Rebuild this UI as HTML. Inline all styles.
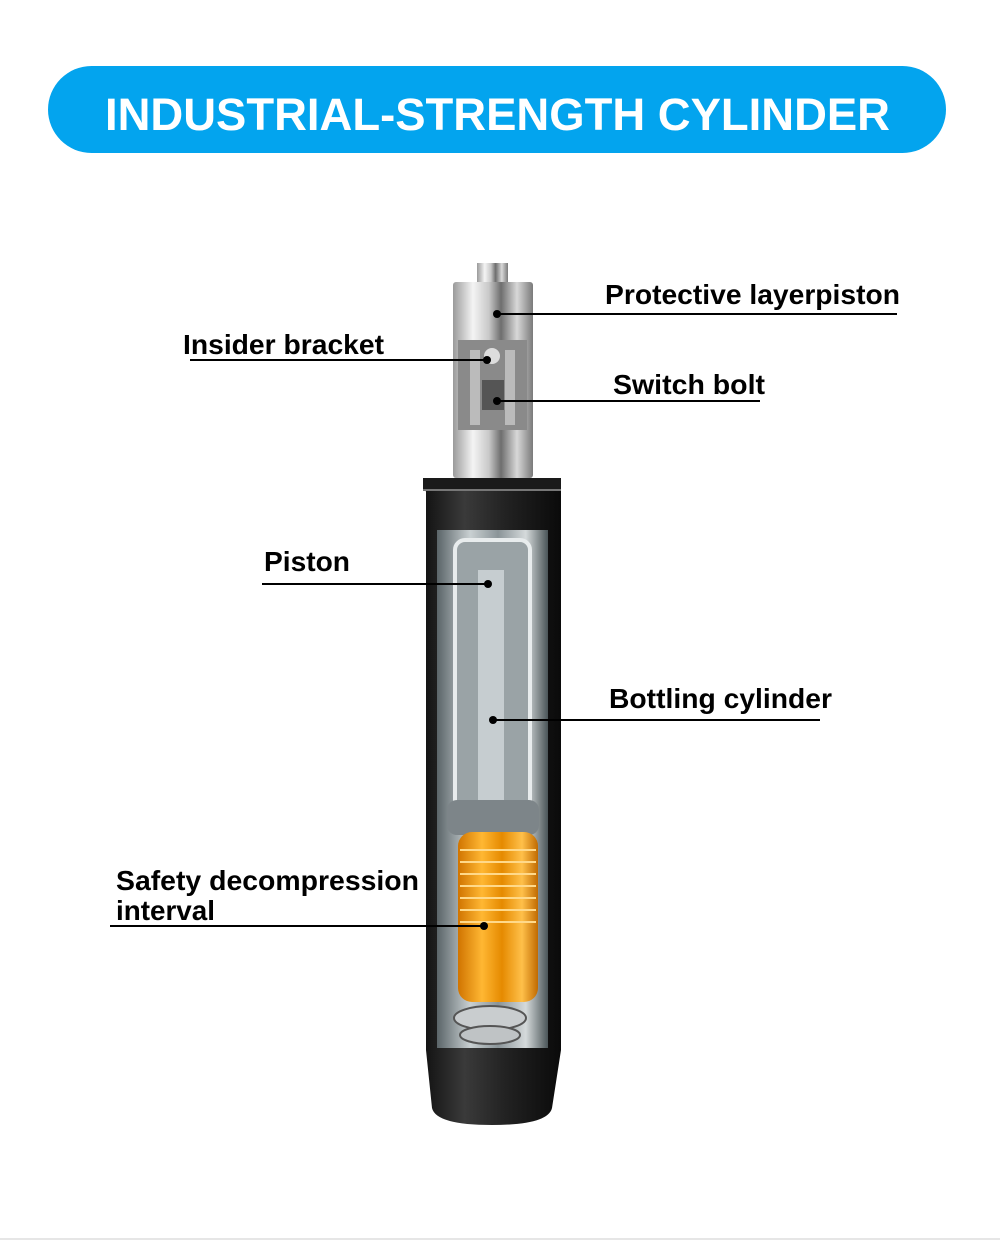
<!DOCTYPE html>
<html><head><meta charset="utf-8"><style>
html,body{margin:0;padding:0;background:#fff;}
svg{display:block}
text{font-family:"Liberation Sans",sans-serif;font-weight:bold;}
</style></head><body>
<svg width="1000" height="1242" viewBox="0 0 1000 1242" xmlns="http://www.w3.org/2000/svg">
<defs>
<linearGradient id="chrome" x1="0" x2="1" y1="0" y2="0">
<stop offset="0" stop-color="#9a9a9a"/><stop offset="0.25" stop-color="#f4f4f4"/><stop offset="0.45" stop-color="#c8c8c8"/><stop offset="0.6" stop-color="#6e6e6e"/><stop offset="0.8" stop-color="#d8d8d8"/><stop offset="1" stop-color="#7a7a7a"/>
</linearGradient>
<linearGradient id="blk" x1="0" x2="1" y1="0" y2="0">
<stop offset="0" stop-color="#111"/><stop offset="0.3" stop-color="#3a3a3a"/><stop offset="0.6" stop-color="#222"/><stop offset="1" stop-color="#0a0a0a"/>
</linearGradient>
<linearGradient id="inner" x1="0" x2="1" y1="0" y2="0">
<stop offset="0" stop-color="#5a6468"/><stop offset="0.3" stop-color="#c9d0d2"/><stop offset="0.55" stop-color="#8a9498"/><stop offset="0.8" stop-color="#d5dadb"/><stop offset="1" stop-color="#4b5558"/>
</linearGradient>
<linearGradient id="orange" x1="0" x2="1" y1="0" y2="0">
<stop offset="0" stop-color="#d07400"/><stop offset="0.3" stop-color="#ffb733"/><stop offset="0.55" stop-color="#e58a00"/><stop offset="0.8" stop-color="#ffc04a"/><stop offset="1" stop-color="#c06a00"/>
</linearGradient>
</defs>
<rect x="48" y="66" width="898" height="87" rx="43.5" fill="#03a4ee"/>
<text x="105" y="130" font-size="45" fill="#fff" textLength="785" lengthAdjust="spacingAndGlyphs">INDUSTRIAL-STRENGTH CYLINDER</text>

<!-- cylinder -->
<rect x="477" y="263" width="31" height="22" fill="url(#chrome)"/>
<rect x="453" y="282" width="80" height="196" rx="3" fill="url(#chrome)"/>
<rect x="458" y="340" width="69" height="90" fill="#8a8a8a"/>
<rect x="470" y="350" width="10" height="75" fill="#bbb"/><rect x="505" y="350" width="10" height="75" fill="#bbb"/>
<rect x="482" y="380" width="22" height="30" fill="#555"/><circle cx="492" cy="356" r="8" fill="#ddd"/>
<path d="M423 478 L561 478 L561 1050 L552 1108 Q548 1125 492 1125 Q436 1125 432 1108 L426 1050 L426 492 Z" fill="url(#blk)"/>
<rect x="423" y="478" width="138" height="12" fill="#1a1a1a"/>
<rect x="423" y="489" width="138" height="2" fill="#777"/>
<rect x="437" y="530" width="111" height="518" fill="url(#inner)"/>
<rect x="455" y="540" width="75" height="270" rx="10" fill="#9aa3a6" stroke="#e8eced" stroke-width="4"/>
<rect x="478" y="570" width="26" height="240" fill="#c6cdd0"/>
<rect x="447" y="800" width="92" height="35" rx="10" fill="#7d8589"/>
<rect x="458" y="832" width="80" height="170" rx="14" fill="url(#orange)"/>
<g stroke="#ffd98a" stroke-width="2">
<line x1="460" y1="850" x2="536" y2="850"/><line x1="460" y1="862" x2="536" y2="862"/><line x1="460" y1="874" x2="536" y2="874"/><line x1="460" y1="886" x2="536" y2="886"/><line x1="460" y1="898" x2="536" y2="898"/><line x1="460" y1="910" x2="536" y2="910"/><line x1="460" y1="922" x2="536" y2="922"/>
</g>
<ellipse cx="490" cy="1018" rx="36" ry="12" fill="#c9cdcf" stroke="#555" stroke-width="2"/>
<ellipse cx="490" cy="1035" rx="30" ry="9" fill="#bfc3c5" stroke="#555" stroke-width="2"/>

<!-- lines -->
<g stroke="#000" stroke-width="2">
<line x1="497" y1="314" x2="897" y2="314"/>
<line x1="190" y1="360" x2="487" y2="360"/>
<line x1="497" y1="401" x2="760" y2="401"/>
<line x1="262" y1="584" x2="488" y2="584"/>
<line x1="493" y1="720" x2="820" y2="720"/>
<line x1="110" y1="926" x2="484" y2="926"/>
</g>
<g fill="#000">
<circle cx="497" cy="314" r="4"/><circle cx="487" cy="360" r="4"/><circle cx="497" cy="401" r="4"/>
<circle cx="488" cy="584" r="4"/><circle cx="493" cy="720" r="4"/><circle cx="484" cy="926" r="4"/>
</g>
<g font-size="28" fill="#000">
<text x="605" y="304" textLength="295" lengthAdjust="spacingAndGlyphs">Protective layerpiston</text>
<text x="183" y="354" textLength="201" lengthAdjust="spacingAndGlyphs">Insider bracket</text>
<text x="613" y="394" textLength="152" lengthAdjust="spacingAndGlyphs">Switch bolt</text>
<text x="264" y="571" textLength="86" lengthAdjust="spacingAndGlyphs">Piston</text>
<text x="609" y="708" textLength="223" lengthAdjust="spacingAndGlyphs">Bottling cylinder</text>
<text x="116" y="890" textLength="303" lengthAdjust="spacingAndGlyphs">Safety decompression</text>
<text x="116" y="920" textLength="99" lengthAdjust="spacingAndGlyphs">interval</text>
</g>
<line x1="0" y1="1239" x2="1000" y2="1239" stroke="#e6e6e6" stroke-width="2"/>
</svg>
</body></html>
